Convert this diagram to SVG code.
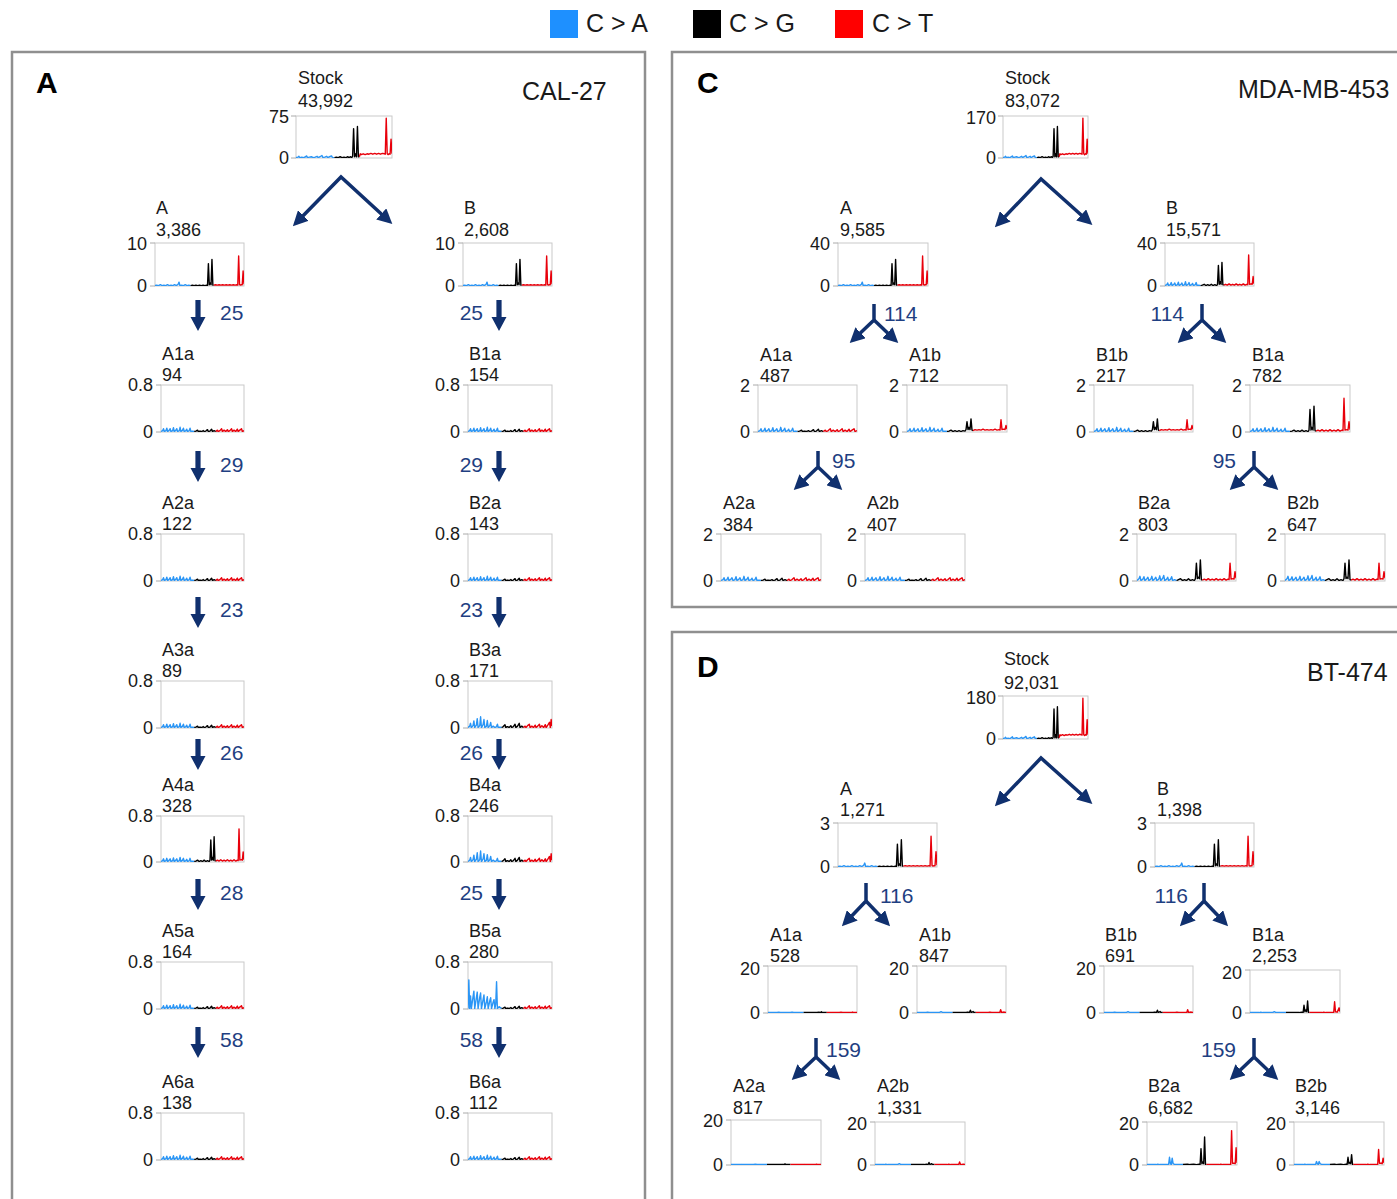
<svg xmlns="http://www.w3.org/2000/svg" xmlns:xlink="http://www.w3.org/1999/xlink" width="1397" height="1199" viewBox="0 0 1397 1199">
<style>
.t{font-family:"Liberation Sans",Arial,sans-serif;font-size:18px;fill:#1a1a1a}
.ax{text-anchor:end}
.n{font-family:"Liberation Sans",Arial,sans-serif;font-size:21px;fill:#1f3f82}
.ne{text-anchor:end}
.pl{font-family:"Liberation Sans",Arial,sans-serif;font-size:30px;font-weight:bold;fill:#000}
.cl{font-family:"Liberation Sans",Arial,sans-serif;font-size:25px;fill:#1a1a1a}
.box{fill:#fff;stroke:#c9c9c9;stroke-width:1}
.tk{stroke:#aaa;stroke-width:1}
.frame{fill:none;stroke:#8f8f8f;stroke-width:2.5}
.conn{fill:none;stroke:#10306e;stroke-width:3.5}
.sb,.sk,.sr{fill:none;stroke-width:1.4;stroke-linejoin:round;vector-effect:non-scaling-stroke}
.sb{stroke:#2a95f5}.sk{stroke:#000}.sr{stroke:#e8000b}
</style>
<defs>
<marker id="ah" viewBox="0 0 10 10" refX="7" refY="5" markerWidth="15" markerHeight="15" markerUnits="userSpaceOnUse" orient="auto-start-reverse"><path d="M0,0 L10,5 L0,10 z" fill="#10306e"/></marker>
<path id="dn" d="M-2.6,0 H2.6 V17 H7.5 L0,31 L-7.5,17 H-2.6 Z" fill="#10306e"/>
<symbol id="sp-big" viewBox="0 0 100 100" preserveAspectRatio="none">
<path class="sb" d="M0,99 L2,98 3,96 4,99 6,98 8,99 10,97 11,95 12,99 14,98 16,97 18,99 20,98 22,96 23,99 25,97 27,94 28,99 30,98 32,96 33,99 35,97 37,95 38,99 40,99"/>
<path class="sk" d="M40,99 L42,98 44,99 46,97 48,99 50,98 52,99 54,97 55,99 57,97 58,99 59,96 60,30 61,97 62,90 63,97 64,25 65,97 66,97"/>
<path class="sr" d="M66,97 L67,90 68,92 70,90 72,92 74,90 76,91 78,89 80,91 82,89 84,91 86,89 88,91 90,89 92,90 93,91 94,5 95,90 96,92 97,90 98,91 99,55 100,90"/>
</symbol>
<symbol id="sp-big2" viewBox="0 0 100 100" preserveAspectRatio="none">
<path class="sb" d="M0,99 L2,98 4,99 6,97 8,99 10,98 12,99 14,97 16,99 18,98 20,99 22,97 24,99 26,96 27,91 28,99 30,98 32,99 34,97 36,99 38,98 40,99"/>
<path class="sk" d="M40,99 L42,98 44,99 46,98 48,99 50,98 52,99 54,98 56,99 58,98 59,99 60,48 61,97 62,93 63,97 64,38 65,98 66,98"/>
<path class="sr" d="M66,98 L68,97 70,98 72,97 74,98 76,97 78,98 80,97 82,98 84,97 86,98 88,97 90,98 92,97 93,98 94,30 95,97 96,98 97,97 98,97 99,65 100,96"/>
</symbol>
<symbol id="sp-mid" viewBox="0 0 100 100" preserveAspectRatio="none">
<path class="sb" d="M0,99 L2,97 3,93 4,99 6,97 7,92 8,99 10,96 11,93 12,99 14,97 15,91 16,99 18,96 19,93 20,99 22,97 23,90 24,99 26,96 27,92 28,99 30,97 31,94 32,99 34,97 35,92 36,99 38,98 40,99"/>
<path class="sk" d="M40,99 L42,98 44,96 46,99 48,97 50,99 52,96 54,99 56,97 58,99 59,96 60,52 61,96 62,90 63,96 64,45 65,97 66,98"/>
<path class="sr" d="M66,98 L68,96 70,98 72,95 74,98 76,96 78,98 80,95 82,98 84,96 86,98 88,95 90,98 92,96 93,97 94,28 95,96 97,95 98,96 99,78 100,95"/>
</symbol>
<symbol id="sp-mid2" viewBox="0 0 100 100" preserveAspectRatio="none">
<path class="sb" d="M0,99 L2,95 3,90 4,99 6,96 7,91 8,99 10,95 11,92 12,99 14,96 15,90 16,99 18,95 19,92 20,99 22,96 23,89 24,99 26,94 27,88 28,99 30,96 31,92 32,99 34,96 35,91 36,99 38,97 40,99"/>
<path class="sk" d="M40,99 L42,97 44,95 46,99 48,97 50,99 52,95 54,99 56,97 58,99 59,95 60,62 61,95 62,92 63,95 64,55 65,97 66,98"/>
<path class="sr" d="M66,98 L68,96 70,98 72,95 74,98 76,96 78,98 80,95 82,98 84,96 86,98 88,95 90,98 92,96 93,97 94,62 95,96 97,95 98,96 99,80 100,94"/>
</symbol>
<symbol id="sp-small" viewBox="0 0 100 100" preserveAspectRatio="none">
<path class="sb" d="M0,99 L2,97 3,93 4,99 6,97 7,92 8,99 10,96 11,93 12,99 14,97 15,91 16,99 18,96 19,93 20,99 22,97 23,90 24,99 26,96 27,92 28,99 30,97 31,94 32,99 34,97 35,92 36,99 38,98 40,99"/>
<path class="sk" d="M40,99 L42,98 44,96 46,99 48,97 50,99 52,97 54,99 56,97 58,98 59,95 60,78 61,95 62,90 63,95 64,72 65,96 66,97"/>
<path class="sr" d="M66,97 L68,95 70,96 72,95 74,96 76,94 78,96 80,95 82,96 84,95 86,96 88,94 90,96 92,95 93,96 94,74 95,95 97,94 98,95 99,86 100,94"/>
</symbol>
<symbol id="sp-low" viewBox="0 0 100 100" preserveAspectRatio="none">
<path class="sb" d="M0,99 L2,97 3,93 4,99 6,97 7,92 8,99 10,96 11,93 12,99 14,97 15,91 16,99 18,96 19,93 20,99 22,97 23,90 24,99 26,96 27,92 28,99 30,97 31,94 32,99 34,97 35,92 36,99 38,98 40,99"/>
<path class="sk" d="M40,99 L42,98 44,96 45,99 47,98 49,99 51,97 52,99 54,98 56,95 57,99 59,98 61,94 62,99 64,97 66,99"/>
<path class="sr" d="M66,99 L68,96 69,99 71,97 73,93 74,99 76,96 78,99 80,95 81,99 83,97 85,93 86,99 88,96 90,99 92,94 93,99 95,96 97,93 98,99 100,97"/>
</symbol>
<symbol id="sp-lowb" viewBox="0 0 100 100" preserveAspectRatio="none">
<path class="sb" d="M0,99 L2,96 3,90 4,99 6,95 7,85 8,99 10,94 11,80 12,99 14,95 15,76 16,99 18,93 19,82 20,99 22,96 23,84 24,99 26,95 27,88 28,99 30,96 32,99 34,97 35,92 36,99 38,98 40,99"/>
<path class="sk" d="M40,99 L42,97 44,93 45,99 47,97 49,99 51,95 52,99 54,97 56,92 57,99 59,96 61,90 62,99 64,96 66,99"/>
<path class="sr" d="M66,99 L68,96 69,99 71,95 73,92 74,99 76,96 78,99 80,94 81,99 83,96 85,92 86,99 88,95 90,99 92,93 93,99 95,94 97,88 98,99 99,82 100,96"/>
</symbol>
<symbol id="sp-blue" viewBox="0 0 100 100" preserveAspectRatio="none">
<path class="sb" d="M0,99 L1,38 2,99 3,72 4,99 6,74 7,62 8,99 10,76 11,64 12,99 14,75 15,66 16,99 18,80 19,70 20,99 22,84 23,74 24,99 26,82 27,76 28,99 30,85 31,80 32,99 33,90 34,42 35,99 37,95 40,99"/>
<path class="sk" d="M40,99 L42,98 44,96 45,99 47,98 49,99 51,97 52,99 54,98 56,95 57,99 59,98 61,94 62,99 64,97 66,99"/>
<path class="sr" d="M66,99 L68,96 69,99 71,97 73,93 74,99 76,96 78,99 80,95 81,99 83,97 85,93 86,99 88,96 90,99 92,94 93,99 95,96 97,93 98,99 100,97"/>
</symbol>
<symbol id="sp-flat" viewBox="0 0 100 100" preserveAspectRatio="none">
<path class="sb" d="M0,99 L10,99 12,98.5 14,99 25,99 27,98 29,99 40,99"/>
<path class="sk" d="M40,99 L55,99 57,98.5 59,99 60,97.5 61,99 66,99"/>
<path class="sr" d="M66,99 L80,99 82,98.5 84,99 94,99 95,98 96,99 100,99"/>
</symbol>
<symbol id="sp-flat2" viewBox="0 0 100 100" preserveAspectRatio="none">
<path class="sb" d="M0,99 L10,99 12,98 14,99 25,99 27,97 29,99 40,99"/>
<path class="sk" d="M40,99 L55,99 57,98 59,99 60,94 61,99 63,97 64,99 66,99"/>
<path class="sr" d="M66,99 L80,99 82,98 84,99 93,99 94,93 95,99 98,98 100,99"/>
</symbol>
<symbol id="sp-dsmall" viewBox="0 0 100 100" preserveAspectRatio="none">
<path class="sb" d="M0,99 L10,99 12,98 14,99 25,99 27,97 29,99 40,99"/>
<path class="sk" d="M40,99 L55,99 57,98 59,99 60,82 61,97 62,93 63,97 64,72 65,99 66,99"/>
<path class="sr" d="M66,99 L80,99 82,98 84,99 93,99 94,74 95,97 97,98 99,88 100,97"/>
</symbol>
<symbol id="sp-dbig" viewBox="0 0 100 100" preserveAspectRatio="none">
<path class="sb" d="M0,99 L10,99 12,98 14,99 24,99 25,82 26,97 27,99 28,84 29,97 31,99 40,99"/>
<path class="sk" d="M40,99 L45,98 48,99 52,98 55,99 58,98 59,99 60,62 61,97 62,93 63,97 64,35 65,99 66,99"/>
<path class="sr" d="M66,99 L80,99 82,98 84,99 93,99 94,20 95,96 97,96 98,97 99,60 100,95"/>
</symbol>
<symbol id="sp-dmid" viewBox="0 0 100 100" preserveAspectRatio="none">
<path class="sb" d="M0,99 L10,99 12,98 14,99 24,99 25,92 26,97 27,99 28,92 29,97 31,99 40,99"/>
<path class="sk" d="M40,99 L45,98 48,99 52,98 55,99 58,98 59,99 60,82 61,97 62,94 63,97 64,76 65,99 66,99"/>
<path class="sr" d="M66,99 L80,99 82,98 84,99 93,99 94,64 95,96 97,96 98,97 99,84 100,95"/>
</symbol>
</defs>
<rect width="1397" height="1199" fill="#fff"/>

<g id="legend">
<rect x="550" y="10" width="28" height="28" fill="#1e90ff"/><text class="cl" x="586" y="32">C &gt; A</text>
<rect x="693" y="10" width="28" height="28" fill="#000"/><text class="cl" x="729" y="32">C &gt; G</text>
<rect x="835" y="10" width="28" height="28" fill="#ff0000"/><text class="cl" x="872" y="32">C &gt; T</text>
</g>

<g id="frames">
<rect class="frame" x="12" y="52" width="633" height="1170"/>
<rect class="frame" x="672" y="52" width="740" height="555"/>
<rect class="frame" x="672" y="632" width="740" height="600"/>
<text class="pl" x="36" y="93">A</text><text class="cl" x="522" y="100">CAL-27</text>
<text class="pl" x="697" y="93">C</text><text class="cl" x="1238" y="98">MDA-MB-453</text>
<text class="pl" x="697" y="677">D</text><text class="cl" x="1307" y="681">BT-474</text>
</g>

<!-- Panel A nodes -->
<g id="a-stock"><text class="t" x="298" y="84">Stock</text><text class="t" x="298" y="107">43,992</text><rect class="box" x="296" y="116" width="96" height="42"/><path class="tk" d="M291,116h5M291,158h5"/><text class="t ax" x="289" y="123">75</text><text class="t ax" x="289" y="164">0</text><use href="#sp-big" x="296" y="116" width="96" height="42"/></g>
<g id="a-A"><text class="t" x="156" y="214">A</text><text class="t" x="156" y="236">3,386</text><rect class="box" x="155" y="243" width="89" height="43"/><path class="tk" d="M150,243h5M150,286h5"/><text class="t ax" x="147" y="250">10</text><text class="t ax" x="147" y="292">0</text><use href="#sp-big2" x="155" y="243" width="89" height="43"/></g>
<g id="a-B"><text class="t" x="464" y="214">B</text><text class="t" x="464" y="236">2,608</text><rect class="box" x="463" y="243" width="89" height="43"/><path class="tk" d="M458,243h5M458,286h5"/><text class="t ax" x="455" y="250">10</text><text class="t ax" x="455" y="292">0</text><use href="#sp-big2" x="463" y="243" width="89" height="43"/></g>

<g id="a-A1a"><text class="t" x="162" y="360">A1a</text><text class="t" x="162" y="381">94</text><rect class="box" x="161" y="385" width="83" height="47"/><path class="tk" d="M156,385h5M156,432h5"/><text class="t ax" x="153" y="391">0.8</text><text class="t ax" x="153" y="438">0</text><use href="#sp-low" x="161" y="385" width="83" height="47"/></g>
<g id="a-A2a"><text class="t" x="162" y="509">A2a</text><text class="t" x="162" y="530">122</text><rect class="box" x="161" y="534" width="83" height="47"/><path class="tk" d="M156,534h5M156,581h5"/><text class="t ax" x="153" y="540">0.8</text><text class="t ax" x="153" y="587">0</text><use href="#sp-low" x="161" y="534" width="83" height="47"/></g>
<g id="a-A3a"><text class="t" x="162" y="656">A3a</text><text class="t" x="162" y="677">89</text><rect class="box" x="161" y="681" width="83" height="47"/><path class="tk" d="M156,681h5M156,728h5"/><text class="t ax" x="153" y="687">0.8</text><text class="t ax" x="153" y="734">0</text><use href="#sp-low" x="161" y="681" width="83" height="47"/></g>
<g id="a-A4a"><text class="t" x="162" y="791">A4a</text><text class="t" x="162" y="812">328</text><rect class="box" x="161" y="816" width="83" height="46"/><path class="tk" d="M156,816h5M156,862h5"/><text class="t ax" x="153" y="822">0.8</text><text class="t ax" x="153" y="868">0</text><use href="#sp-mid" x="161" y="816" width="83" height="46"/></g>
<g id="a-A5a"><text class="t" x="162" y="937">A5a</text><text class="t" x="162" y="958">164</text><rect class="box" x="161" y="962" width="83" height="47"/><path class="tk" d="M156,962h5M156,1009h5"/><text class="t ax" x="153" y="968">0.8</text><text class="t ax" x="153" y="1015">0</text><use href="#sp-low" x="161" y="962" width="83" height="47"/></g>
<g id="a-A6a"><text class="t" x="162" y="1088">A6a</text><text class="t" x="162" y="1109">138</text><rect class="box" x="161" y="1113" width="83" height="47"/><path class="tk" d="M156,1113h5M156,1160h5"/><text class="t ax" x="153" y="1119">0.8</text><text class="t ax" x="153" y="1166">0</text><use href="#sp-low" x="161" y="1113" width="83" height="47"/></g>

<g id="a-B1a"><text class="t" x="469" y="360">B1a</text><text class="t" x="469" y="381">154</text><rect class="box" x="468" y="385" width="84" height="47"/><path class="tk" d="M463,385h5M463,432h5"/><text class="t ax" x="460" y="391">0.8</text><text class="t ax" x="460" y="438">0</text><use href="#sp-low" x="468" y="385" width="84" height="47"/></g>
<g id="a-B2a"><text class="t" x="469" y="509">B2a</text><text class="t" x="469" y="530">143</text><rect class="box" x="468" y="534" width="84" height="47"/><path class="tk" d="M463,534h5M463,581h5"/><text class="t ax" x="460" y="540">0.8</text><text class="t ax" x="460" y="587">0</text><use href="#sp-low" x="468" y="534" width="84" height="47"/></g>
<g id="a-B3a"><text class="t" x="469" y="656">B3a</text><text class="t" x="469" y="677">171</text><rect class="box" x="468" y="681" width="84" height="47"/><path class="tk" d="M463,681h5M463,728h5"/><text class="t ax" x="460" y="687">0.8</text><text class="t ax" x="460" y="734">0</text><use href="#sp-lowb" x="468" y="681" width="84" height="47"/></g>
<g id="a-B4a"><text class="t" x="469" y="791">B4a</text><text class="t" x="469" y="812">246</text><rect class="box" x="468" y="816" width="84" height="46"/><path class="tk" d="M463,816h5M463,862h5"/><text class="t ax" x="460" y="822">0.8</text><text class="t ax" x="460" y="868">0</text><use href="#sp-lowb" x="468" y="816" width="84" height="46"/></g>
<g id="a-B5a"><text class="t" x="469" y="937">B5a</text><text class="t" x="469" y="958">280</text><rect class="box" x="468" y="962" width="84" height="47"/><path class="tk" d="M463,962h5M463,1009h5"/><text class="t ax" x="460" y="968">0.8</text><text class="t ax" x="460" y="1015">0</text><use href="#sp-blue" x="468" y="962" width="84" height="47"/></g>
<g id="a-B6a"><text class="t" x="469" y="1088">B6a</text><text class="t" x="469" y="1109">112</text><rect class="box" x="468" y="1113" width="84" height="47"/><path class="tk" d="M463,1113h5M463,1160h5"/><text class="t ax" x="460" y="1119">0.8</text><text class="t ax" x="460" y="1166">0</text><use href="#sp-low" x="468" y="1113" width="84" height="47"/></g>

<!-- Panel C nodes -->
<g id="c-stock"><text class="t" x="1005" y="84">Stock</text><text class="t" x="1005" y="107">83,072</text><rect class="box" x="1003" y="116" width="85" height="42"/><path class="tk" d="M998,116h5M998,158h5"/><text class="t ax" x="996" y="124">170</text><text class="t ax" x="996" y="164">0</text><use href="#sp-big" x="1003" y="116" width="85" height="42"/></g>
<g id="c-A"><text class="t" x="840" y="214">A</text><text class="t" x="840" y="236">9,585</text><rect class="box" x="838" y="243" width="90" height="43"/><path class="tk" d="M833,243h5M833,286h5"/><text class="t ax" x="830" y="250">40</text><text class="t ax" x="830" y="292">0</text><use href="#sp-big2" x="838" y="243" width="90" height="43"/></g>
<g id="c-B"><text class="t" x="1166" y="214">B</text><text class="t" x="1166" y="236">15,571</text><rect class="box" x="1165" y="243" width="89" height="43"/><path class="tk" d="M1160,243h5M1160,286h5"/><text class="t ax" x="1157" y="250">40</text><text class="t ax" x="1157" y="292">0</text><use href="#sp-mid" x="1165" y="243" width="89" height="43"/></g>
<g id="c-A1a"><text class="t" x="760" y="361">A1a</text><text class="t" x="760" y="382">487</text><rect class="box" x="758" y="385" width="99" height="47"/><path class="tk" d="M753,385h5M753,432h5"/><text class="t ax" x="750" y="392">2</text><text class="t ax" x="750" y="438">0</text><use href="#sp-low" x="758" y="385" width="99" height="47"/></g>
<g id="c-A1b"><text class="t" x="909" y="361">A1b</text><text class="t" x="909" y="382">712</text><rect class="box" x="907" y="385" width="100" height="47"/><path class="tk" d="M902,385h5M902,432h5"/><text class="t ax" x="899" y="392">2</text><text class="t ax" x="899" y="438">0</text><use href="#sp-small" x="907" y="385" width="100" height="47"/></g>
<g id="c-B1b"><text class="t" x="1096" y="361">B1b</text><text class="t" x="1096" y="382">217</text><rect class="box" x="1094" y="385" width="99" height="47"/><path class="tk" d="M1089,385h5M1089,432h5"/><text class="t ax" x="1086" y="392">2</text><text class="t ax" x="1086" y="438">0</text><use href="#sp-small" x="1094" y="385" width="99" height="47"/></g>
<g id="c-B1a"><text class="t" x="1252" y="361">B1a</text><text class="t" x="1252" y="382">782</text><rect class="box" x="1250" y="385" width="100" height="47"/><path class="tk" d="M1245,385h5M1245,432h5"/><text class="t ax" x="1242" y="392">2</text><text class="t ax" x="1242" y="438">0</text><use href="#sp-mid" x="1250" y="385" width="100" height="47"/></g>
<g id="c-A2a"><text class="t" x="723" y="509">A2a</text><text class="t" x="723" y="531">384</text><rect class="box" x="721" y="534" width="100" height="47"/><path class="tk" d="M716,534h5M716,581h5"/><text class="t ax" x="713" y="541">2</text><text class="t ax" x="713" y="587">0</text><use href="#sp-low" x="721" y="534" width="100" height="47"/></g>
<g id="c-A2b"><text class="t" x="867" y="509">A2b</text><text class="t" x="867" y="531">407</text><rect class="box" x="865" y="534" width="100" height="47"/><path class="tk" d="M860,534h5M860,581h5"/><text class="t ax" x="857" y="541">2</text><text class="t ax" x="857" y="587">0</text><use href="#sp-low" x="865" y="534" width="100" height="47"/></g>
<g id="c-B2a"><text class="t" x="1138" y="509">B2a</text><text class="t" x="1138" y="531">803</text><rect class="box" x="1137" y="534" width="99" height="47"/><path class="tk" d="M1132,534h5M1132,581h5"/><text class="t ax" x="1129" y="541">2</text><text class="t ax" x="1129" y="587">0</text><use href="#sp-mid2" x="1137" y="534" width="99" height="47"/></g>
<g id="c-B2b"><text class="t" x="1287" y="509">B2b</text><text class="t" x="1287" y="531">647</text><rect class="box" x="1285" y="534" width="100" height="47"/><path class="tk" d="M1280,534h5M1280,581h5"/><text class="t ax" x="1277" y="541">2</text><text class="t ax" x="1277" y="587">0</text><use href="#sp-mid2" x="1285" y="534" width="100" height="47"/></g>

<!-- Panel D nodes -->
<g id="d-stock"><text class="t" x="1004" y="665">Stock</text><text class="t" x="1004" y="689">92,031</text><rect class="box" x="1003" y="696" width="85" height="43"/><path class="tk" d="M998,696h5M998,739h5"/><text class="t ax" x="996" y="704">180</text><text class="t ax" x="996" y="745">0</text><use href="#sp-big" x="1003" y="696" width="85" height="43"/></g>
<g id="d-A"><text class="t" x="840" y="795">A</text><text class="t" x="840" y="816">1,271</text><rect class="box" x="838" y="823" width="99" height="44"/><path class="tk" d="M833,823h5M833,867h5"/><text class="t ax" x="830" y="830">3</text><text class="t ax" x="830" y="873">0</text><use href="#sp-big2" x="838" y="823" width="99" height="44"/></g>
<g id="d-B"><text class="t" x="1157" y="795">B</text><text class="t" x="1157" y="816">1,398</text><rect class="box" x="1155" y="823" width="99" height="44"/><path class="tk" d="M1150,823h5M1150,867h5"/><text class="t ax" x="1147" y="830">3</text><text class="t ax" x="1147" y="873">0</text><use href="#sp-big2" x="1155" y="823" width="99" height="44"/></g>
<g id="d-A1a"><text class="t" x="770" y="941">A1a</text><text class="t" x="770" y="962">528</text><rect class="box" x="768" y="966" width="89" height="47"/><path class="tk" d="M763,966h5M763,1013h5"/><text class="t ax" x="760" y="975">20</text><text class="t ax" x="760" y="1019">0</text><use href="#sp-flat" x="768" y="966" width="89" height="47"/></g>
<g id="d-A1b"><text class="t" x="919" y="941">A1b</text><text class="t" x="919" y="962">847</text><rect class="box" x="917" y="966" width="89" height="47"/><path class="tk" d="M912,966h5M912,1013h5"/><text class="t ax" x="909" y="975">20</text><text class="t ax" x="909" y="1019">0</text><use href="#sp-flat2" x="917" y="966" width="89" height="47"/></g>
<g id="d-B1b"><text class="t" x="1105" y="941">B1b</text><text class="t" x="1105" y="962">691</text><rect class="box" x="1104" y="966" width="89" height="47"/><path class="tk" d="M1099,966h5M1099,1013h5"/><text class="t ax" x="1096" y="975">20</text><text class="t ax" x="1096" y="1019">0</text><use href="#sp-flat2" x="1104" y="966" width="89" height="47"/></g>
<g id="d-B1a"><text class="t" x="1252" y="941">B1a</text><text class="t" x="1252" y="962">2,253</text><rect class="box" x="1250" y="970" width="90" height="43"/><path class="tk" d="M1245,970h5M1245,1013h5"/><text class="t ax" x="1242" y="979">20</text><text class="t ax" x="1242" y="1019">0</text><use href="#sp-dsmall" x="1250" y="970" width="90" height="43"/></g>
<g id="d-A2a"><text class="t" x="733" y="1092">A2a</text><text class="t" x="733" y="1114">817</text><rect class="box" x="731" y="1120" width="90" height="45"/><path class="tk" d="M726,1120h5M726,1165h5"/><text class="t ax" x="723" y="1127">20</text><text class="t ax" x="723" y="1171">0</text><use href="#sp-flat" x="731" y="1120" width="90" height="45"/></g>
<g id="d-A2b"><text class="t" x="877" y="1092">A2b</text><text class="t" x="877" y="1114">1,331</text><rect class="box" x="875" y="1122" width="90" height="43"/><path class="tk" d="M870,1122h5M870,1165h5"/><text class="t ax" x="867" y="1130">20</text><text class="t ax" x="867" y="1171">0</text><use href="#sp-flat2" x="875" y="1122" width="90" height="43"/></g>
<g id="d-B2a"><text class="t" x="1148" y="1092">B2a</text><text class="t" x="1148" y="1114">6,682</text><rect class="box" x="1147" y="1122" width="90" height="43"/><path class="tk" d="M1142,1122h5M1142,1165h5"/><text class="t ax" x="1139" y="1130">20</text><text class="t ax" x="1139" y="1171">0</text><use href="#sp-dbig" x="1147" y="1122" width="90" height="43"/></g>
<g id="d-B2b"><text class="t" x="1295" y="1092">B2b</text><text class="t" x="1295" y="1114">3,146</text><rect class="box" x="1294" y="1122" width="90" height="43"/><path class="tk" d="M1289,1122h5M1289,1165h5"/><text class="t ax" x="1286" y="1130">20</text><text class="t ax" x="1286" y="1171">0</text><use href="#sp-dmid" x="1294" y="1122" width="90" height="43"/></g>

<g id="connectors">
<path class="conn" d="M296,223 L341,177 L389,221" marker-start="url(#ah)" marker-end="url(#ah)"/>
<path class="conn" d="M998,224 L1041,179 L1089,222" marker-start="url(#ah)" marker-end="url(#ah)"/>
<path class="conn" d="M998,803 L1041,758 L1089,801" marker-start="url(#ah)" marker-end="url(#ah)"/>
<use href="#dn" x="198" y="300"/><use href="#dn" x="198" y="451"/><use href="#dn" x="198" y="597"/><use href="#dn" x="198" y="739"/><use href="#dn" x="198" y="879"/><use href="#dn" x="198" y="1027"/>
<use href="#dn" x="499" y="300"/><use href="#dn" x="499" y="451"/><use href="#dn" x="499" y="597"/><use href="#dn" x="499" y="739"/><use href="#dn" x="499" y="879"/><use href="#dn" x="499" y="1027"/>
<path class="conn" d="M874,304 V320 L853,340" marker-end="url(#ah)"/><path class="conn" d="M874,320 L895,340" marker-end="url(#ah)"/>
<path class="conn" d="M1202,304 V320 L1181,340" marker-end="url(#ah)"/><path class="conn" d="M1202,320 L1223,340" marker-end="url(#ah)"/>
<path class="conn" d="M818,451 V467 L797,487" marker-end="url(#ah)"/><path class="conn" d="M818,467 L839,487" marker-end="url(#ah)"/>
<path class="conn" d="M1254,451 V467 L1233,487" marker-end="url(#ah)"/><path class="conn" d="M1254,467 L1275,487" marker-end="url(#ah)"/>
<path class="conn" d="M866,883 V901 L845,923" marker-end="url(#ah)"/><path class="conn" d="M866,901 L887,923" marker-end="url(#ah)"/>
<path class="conn" d="M1204,883 V901 L1183,923" marker-end="url(#ah)"/><path class="conn" d="M1204,901 L1225,923" marker-end="url(#ah)"/>
<path class="conn" d="M816,1038 V1057 L795,1077" marker-end="url(#ah)"/><path class="conn" d="M816,1057 L837,1077" marker-end="url(#ah)"/>
<path class="conn" d="M1254,1038 V1057 L1233,1077" marker-end="url(#ah)"/><path class="conn" d="M1254,1057 L1275,1077" marker-end="url(#ah)"/>
<text class="n" x="220" y="320">25</text><text class="n" x="220" y="472">29</text><text class="n" x="220" y="617">23</text><text class="n" x="220" y="760">26</text><text class="n" x="220" y="900">28</text><text class="n" x="220" y="1047">58</text>
<text class="n ne" x="483" y="320">25</text><text class="n ne" x="483" y="472">29</text><text class="n ne" x="483" y="617">23</text><text class="n ne" x="483" y="760">26</text><text class="n ne" x="483" y="900">25</text><text class="n ne" x="483" y="1047">58</text>
<text class="n" x="884" y="321">114</text><text class="n ne" x="1184" y="321">114</text>
<text class="n" x="832" y="468">95</text><text class="n ne" x="1236" y="468">95</text>
<text class="n" x="880" y="903">116</text><text class="n ne" x="1188" y="903">116</text>
<text class="n" x="826" y="1057">159</text><text class="n ne" x="1236" y="1057">159</text>
</g>
</svg>
